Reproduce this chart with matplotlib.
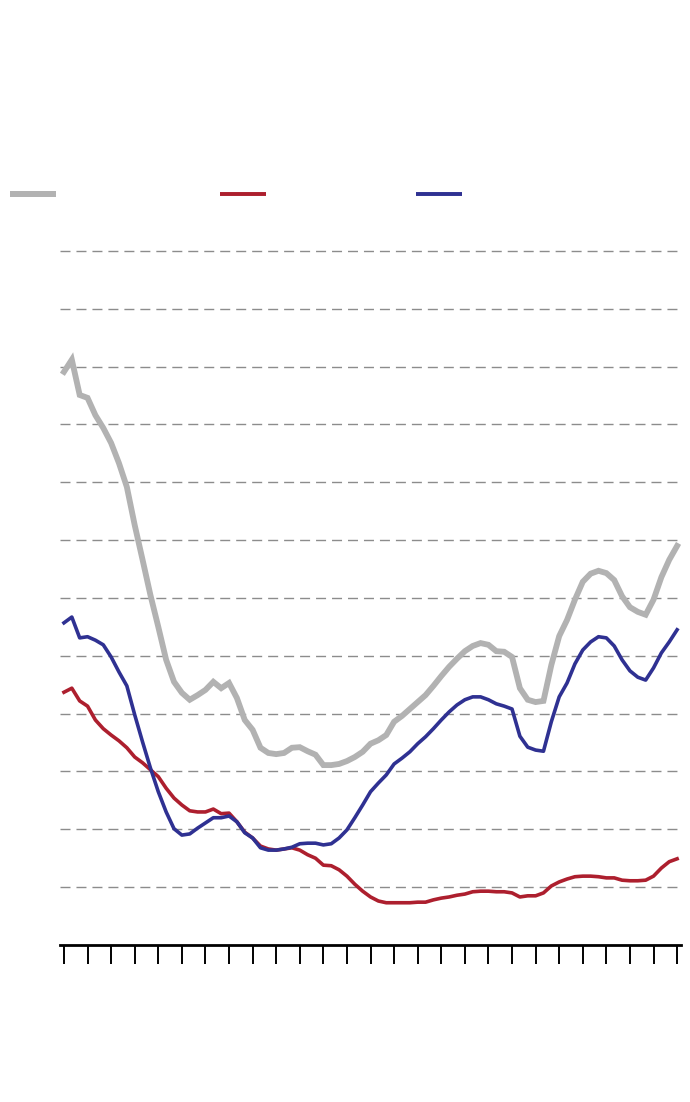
"""Three series line chart, no text labels."""
import matplotlib
matplotlib.use("Agg")
import matplotlib.pyplot as plt
from matplotlib.lines import Line2D

gray_vals = [9.91, 10.12, 9.51, 9.46, 9.16, 8.94, 8.68, 8.33, 7.92, 7.26,
             6.66, 6.05, 5.50, 4.93, 4.55, 4.36, 4.24, 4.32, 4.41, 4.55,
             4.44, 4.53, 4.27, 3.89, 3.72, 3.41, 3.32, 3.30, 3.32, 3.41,
             3.42, 3.35, 3.29, 3.11, 3.11, 3.13, 3.18, 3.25, 3.34, 3.48,
             3.54, 3.63, 3.86, 3.96, 4.08, 4.20, 4.32, 4.48, 4.65, 4.81,
             4.95, 5.08, 5.17, 5.22, 5.19, 5.08, 5.07, 4.98, 4.44, 4.24,
             4.20, 4.22, 4.84, 5.34, 5.62, 5.97, 6.28, 6.42, 6.47, 6.43,
             6.31, 6.03, 5.84, 5.76, 5.71, 5.97, 6.36, 6.66, 6.90]

red_vals = [4.37, 4.44, 4.22, 4.13, 3.89, 3.74, 3.63, 3.53, 3.41, 3.25,
            3.15, 3.03, 2.91, 2.71, 2.54, 2.42, 2.32, 2.30, 2.30, 2.35,
            2.27, 2.28, 2.13, 1.95, 1.85, 1.71, 1.66, 1.64, 1.66, 1.68,
            1.64, 1.56, 1.50, 1.38, 1.37, 1.30, 1.19, 1.05, 0.93, 0.83,
            0.76, 0.73, 0.73, 0.73, 0.73, 0.74, 0.74, 0.78, 0.81, 0.83,
            0.86, 0.88, 0.92, 0.93, 0.93, 0.92, 0.92, 0.90, 0.83, 0.85,
            0.85, 0.90, 1.02, 1.09, 1.14, 1.18, 1.19, 1.19, 1.18, 1.16,
            1.16, 1.12, 1.11, 1.11, 1.12, 1.19, 1.33, 1.44, 1.49]

blue_vals = [5.57, 5.67, 5.31, 5.33, 5.27, 5.19, 4.98, 4.72, 4.48, 3.98,
             3.51, 3.06, 2.65, 2.30, 2.01, 1.90, 1.92, 2.02, 2.11, 2.20,
             2.20, 2.23, 2.13, 1.94, 1.85, 1.68, 1.64, 1.64, 1.66, 1.69,
             1.75, 1.76, 1.76, 1.73, 1.75, 1.85, 1.99, 2.20, 2.42, 2.65,
             2.80, 2.94, 3.13, 3.23, 3.34, 3.48, 3.60, 3.74, 3.89, 4.03,
             4.15, 4.24, 4.29, 4.29, 4.24, 4.17, 4.13, 4.08, 3.61, 3.42,
             3.37, 3.35, 3.86, 4.29, 4.53, 4.86, 5.10, 5.24, 5.33, 5.31,
             5.17, 4.93, 4.74, 4.63, 4.58, 4.79, 5.05, 5.24, 5.45]

GRAY = "#b2b2b2"
RED = "#ad1f2e"
BLUE = "#2f3192"


def main():
    """Draw the chart."""
    fig = plt.figure(figsize=(6.9, 11.02), dpi=100)
    ax = fig.add_axes([0.087, 0.1425, 0.9, 0.635])

    x = list(range(len(gray_vals)))
    ax.plot(x, gray_vals, color=GRAY, lw=4.2, solid_joinstyle="miter",
            zorder=3)
    ax.plot(x, red_vals, color=RED, lw=2.6, zorder=4)
    ax.plot(x, blue_vals, color=BLUE, lw=2.6, zorder=5)

    ax.set_xlim(-0.5, 78.5)
    ax.set_ylim(0, 12.1)
    ax.set_yticks(range(1, 13))
    ax.set_yticklabels([])
    ax.tick_params(axis="y", length=0)
    ax.grid(axis="y", color="#8c8c8c", lw=1.0, linestyle=(0, (7.2, 4.3)))
    ax.set_axisbelow(True)

    ax.set_xticks(range(0, 79, 3))
    ax.set_xticklabels([])
    ax.tick_params(axis="x", direction="out", length=13.7, width=1.4,
                   color="black")
    for side in ("top", "right", "left"):
        ax.spines[side].set_visible(False)
    ax.spines["bottom"].set_linewidth(2.0)
    ax.spines["bottom"].set_color("black")

    # legend keys (no text in the reference)
    keys = [(GRAY, 4.2, 10), (RED, 2.6, 220), (BLUE, 2.6, 416)]
    for color, lw, left in keys:
        leg = fig.legend([Line2D([], [], color=color, lw=lw,
                                 solid_capstyle="butt")], [""],
                         loc="center left",
                         bbox_to_anchor=(left / 690, 1 - 194.5 / 1102),
                         frameon=False, borderpad=0, borderaxespad=0,
                         handletextpad=0, handlelength=3.3, fontsize=10)
        fig.add_artist(leg)

    fig.savefig("out.png", dpi=100)


if __name__ == "__main__":
    main()
